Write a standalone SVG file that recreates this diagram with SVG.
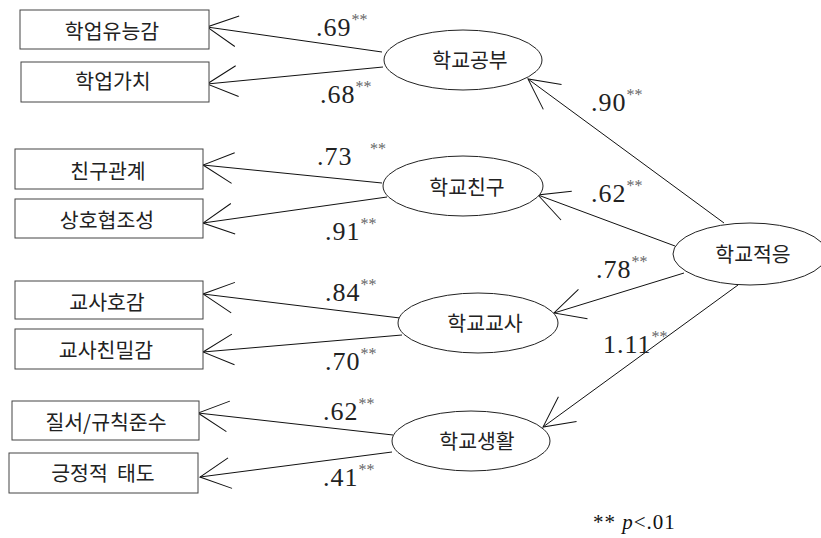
<svg xmlns="http://www.w3.org/2000/svg" width="821" height="538" viewBox="0 0 821 538">
<style>
.box{fill:#fff;stroke:#444;stroke-width:1}
.ell{fill:#fff;stroke:#222;stroke-width:1}
.kt{font-family:"Noto Sans CJK KR","Noto Sans",sans-serif;font-size:20.5px;fill:#222;text-anchor:middle}
.num{font-family:"Liberation Serif","Times New Roman",serif;font-size:26px;fill:#222;letter-spacing:1px}
.st{font-size:16px;fill:#666;letter-spacing:0}
.ln{stroke:#111;stroke-width:1;fill:none;marker-end:url(#ah)}
</style>
<defs>
<marker id="ah" markerUnits="userSpaceOnUse" orient="auto" markerWidth="40" markerHeight="40" refX="0" refY="0" viewBox="-35 -20 40 40" overflow="visible">
<path d="M-30.3,-15.4 L0,0 L-30.3,15.4" fill="none" stroke="#111" stroke-width="1"/>
</marker>
</defs>
<rect width="821" height="538" fill="#fff"/>
<g id="connectors">
<line class="ln" x1="382" y1="52" x2="207" y2="27"/>
<line class="ln" x1="383" y1="67" x2="207" y2="84"/>
<line class="ln" x1="724" y1="223" x2="528" y2="79"/>
<line class="ln" x1="382" y1="183" x2="203" y2="165"/>
<line class="ln" x1="387" y1="197" x2="203" y2="223"/>
<line class="ln" x1="675" y1="246" x2="538" y2="195"/>
<line class="ln" x1="400" y1="318" x2="203" y2="294"/>
<line class="ln" x1="402" y1="335" x2="203" y2="352"/>
<line class="ln" x1="684" y1="273" x2="554" y2="313"/>
<line class="ln" x1="738" y1="285" x2="543" y2="427"/>
<line class="ln" x1="393" y1="435" x2="198" y2="413"/>
<line class="ln" x1="392" y1="452" x2="200" y2="477"/>
</g>
<g id="n-academic-competence"><rect class="box" x="20" y="10" width="189" height="39"/><text class="kt" x="112" y="39">학업유능감</text></g>
<g id="n-academic-value"><rect class="box" x="21" y="62" width="188" height="40"/><text class="kt" x="113" y="89">학업가치</text></g>
<g id="n-friend-relation"><rect class="box" x="15" y="149" width="188" height="40"/><text class="kt" x="108" y="179">친구관계</text></g>
<g id="n-cooperation"><rect class="box" x="15" y="199" width="188" height="39"/><text class="kt" x="107" y="228">상호협조성</text></g>
<g id="n-teacher-like"><rect class="box" x="15" y="281" width="188" height="38"/><text class="kt" x="107" y="310">교사호감</text></g>
<g id="n-teacher-close"><rect class="box" x="15" y="329" width="188" height="40"/><text class="kt" x="106" y="358">교사친밀감</text></g>
<g id="n-order-rules"><rect class="box" x="12" y="401" width="187" height="39"/><text class="kt" x="106" y="430">질서/규칙준수</text></g>
<g id="n-positive-attitude"><rect class="box" x="9" y="453" width="189" height="40"/><text class="kt" x="103" y="481" xml:space="preserve">긍정적  태도</text></g>
<g id="n-school-study"><ellipse class="ell" cx="463" cy="60" rx="79" ry="30"/><text class="kt" x="470" y="68">학교공부</text></g>
<g id="n-school-friend"><ellipse class="ell" cx="463" cy="186" rx="80" ry="30"/><text class="kt" x="467" y="195">학교친구</text></g>
<g id="n-school-teacher"><ellipse class="ell" cx="478" cy="323" rx="80" ry="30"/><text class="kt" x="485" y="331">학교교사</text></g>
<g id="n-school-life"><ellipse class="ell" cx="471" cy="441" rx="79" ry="30"/><text class="kt" x="477" y="449">학교생활</text></g>
<g id="n-school-adjust"><ellipse class="ell" cx="750" cy="254" rx="77" ry="31"/><text class="kt" x="753" y="262">학교적응</text></g>
<g id="labels">
<text class="num" x="316" y="36">.69<tspan class="st" dy="-11">**</tspan></text>
<text class="num" x="320" y="103">.68<tspan class="st" dy="-11">**</tspan></text>
<text class="num" x="591" y="111">.90<tspan class="st" dy="-11">**</tspan></text>
<text class="num" x="317" y="165">.73<tspan class="st" x="370" dy="-11">**</tspan></text>
<text class="num" x="325" y="240">.91<tspan class="st" dy="-11">**</tspan></text>
<text class="num" x="591" y="202">.62<tspan class="st" dy="-11">**</tspan></text>
<text class="num" x="596" y="278">.78<tspan class="st" dy="-11">**</tspan></text>
<text class="num" x="325" y="301">.84<tspan class="st" dy="-11">**</tspan></text>
<text class="num" x="325" y="370">.70<tspan class="st" dy="-11">**</tspan></text>
<text class="num" x="603" y="353">1.11<tspan class="st" dy="-11">**</tspan></text>
<text class="num" x="323" y="420">.62<tspan class="st" dy="-11">**</tspan></text>
<text class="num" x="323" y="486">.41<tspan class="st" dy="-11">**</tspan></text>
<text x="593" y="529" font-family="'Liberation Serif','Times New Roman',serif" font-size="21" letter-spacing="1" fill="#111">** <tspan font-style="italic">p</tspan>&lt;.01</text>
</g>
</svg>
